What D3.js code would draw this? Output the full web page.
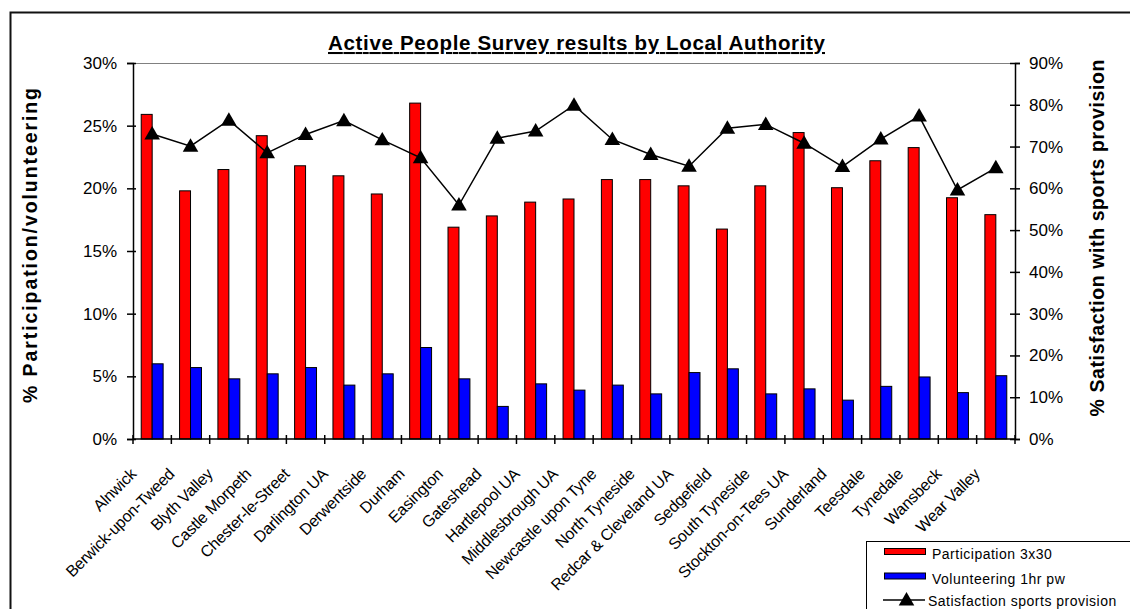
<!DOCTYPE html>
<html>
<head>
<meta charset="utf-8">
<script src="https://cdn.jsdelivr.net/npm/d3@7"></script>
<style>
  html, body { margin: 0; padding: 0; background: #fff; }
  svg { display: block; font-family: "Liberation Sans", Arial, sans-serif; }
</style>
</head>
<body>
<svg id="chart" width="1130" height="609"></svg>
<script>
// Local authorities in the North East
const categories = [
  "Alnwick", "Berwick-upon-Tweed", "Blyth Valley", "Castle Morpeth", "Chester-le-Street",
  "Darlington UA", "Derwentside", "Durham", "Easington", "Gateshead", "Hartlepool UA",
  "Middlesbrough UA", "Newcastle upon Tyne", "North Tyneside", "Redcar & Cleveland UA",
  "Sedgefield", "South Tyneside", "Stockton-on-Tees UA", "Sunderland", "Teesdale",
  "Tynedale", "Wansbeck", "Wear Valley"
];

// Participation 3x30 (share of adults)
const participation = [
  0.259, 0.198, 0.215, 0.242, 0.218, 0.210, 0.1955, 0.268, 0.169, 0.178, 0.189,
  0.1915, 0.207, 0.207, 0.202, 0.1675, 0.202, 0.2445, 0.2005, 0.222, 0.2325, 0.1925, 0.179
];

// Volunteering at least 1hr per week
const volunteering = [
  0.060, 0.057, 0.048, 0.052, 0.057, 0.043, 0.052, 0.073, 0.048, 0.026, 0.044,
  0.039, 0.043, 0.036, 0.053, 0.056, 0.036, 0.040, 0.031, 0.042, 0.0495, 0.037, 0.0505
];

// Satisfaction with sports provision
const satisfaction = [
  0.730, 0.701, 0.763, 0.685, 0.729, 0.762, 0.716, 0.673, 0.560, 0.720, 0.737,
  0.799, 0.717, 0.681, 0.653, 0.744, 0.753, 0.708, 0.652, 0.718, 0.773, 0.596, 0.649
];

const leftTicks = [0, 0.05, 0.10, 0.15, 0.20, 0.25, 0.30];
const rightTicks = [0, 0.1, 0.2, 0.3, 0.4, 0.5, 0.6, 0.7, 0.8, 0.9];

const barSeries = [
  { name: "Participation 3x30", values: participation, color: "#ff0000" },
  { name: "Volunteering 1hr pw", values: volunteering, color: "#0000ff" }
];
const lineName = "Satisfaction sports provision";

const svg = d3.select("#chart");
const font = '"Liberation Sans", Arial, sans-serif';

// plot area
const plot = { left: 133, right: 1015, top: 63, bottom: 439 };

// outer chart border
svg.append("rect")
  .attr("x", 10.5).attr("y", 12.5)
  .attr("width", 1140).attr("height", 640)
  .attr("fill", "#fff").attr("stroke", "#111").attr("stroke-width", 2);

// scales
const pad = 1.5 / 3.5;
const x0 = d3.scaleBand().domain(categories)
  .range([plot.left, plot.right]).paddingInner(pad).paddingOuter(pad / 2);
const x1 = d3.scaleBand().domain(barSeries.map(s => s.name)).range([0, x0.bandwidth()]);
const step = x0.step();
const yL = d3.scaleLinear().domain([0, 0.30]).range([plot.bottom, plot.top]);
const yR = d3.scaleLinear().domain([0, 0.90]).range([plot.bottom, plot.top]);

// plot area top edge
svg.append("line")
  .attr("x1", plot.left).attr("x2", plot.right)
  .attr("y1", plot.top + 0.5).attr("y2", plot.top + 0.5)
  .attr("stroke", "#808080").attr("stroke-width", 1);

// bars
barSeries.forEach(s => {
  svg.append("g").selectAll("rect")
    .data(categories)
    .join("rect")
    .attr("x", (c) => x0(c) + x1(s.name))
    .attr("width", x1.bandwidth())
    .attr("y", (c, i) => yL(s.values[i]))
    .attr("height", (c, i) => plot.bottom - yL(s.values[i]))
    .attr("fill", s.color)
    .attr("stroke", "#000").attr("stroke-width", 1);
});

// left axis
const axL = svg.append("g")
  .attr("transform", `translate(${plot.left},0)`)
  .call(d3.axisLeft(yL).tickValues(leftTicks).tickFormat(d3.format(".0%")).tickSize(6).tickPadding(10));
axL.select(".domain").attr("stroke", "#000").attr("stroke-width", 1.5);
axL.selectAll(".tick line").attr("x1", 3).attr("x2", -6).attr("stroke-width", 1.5);
axL.selectAll(".tick text").attr("font-family", font).attr("font-size", 17).attr("fill", "#000");

// right axis
const axR = svg.append("g")
  .attr("transform", `translate(${plot.right},0)`)
  .call(d3.axisRight(yR).tickValues(rightTicks).tickFormat(d3.format(".0%")).tickSize(5).tickPadding(9));
axR.select(".domain").attr("stroke", "#000").attr("stroke-width", 1.5);
axR.selectAll(".tick line").attr("x1", -5).attr("x2", 5).attr("stroke-width", 1.5);
axR.selectAll(".tick text").attr("font-family", font).attr("font-size", 17).attr("fill", "#000");

// category axis with ticks between groups
const boundaries = categories.map(c => x0(c) - step * pad / 2).concat([plot.right]);
const axX = svg.append("g");
axX.append("line")
  .attr("x1", plot.left).attr("x2", plot.right)
  .attr("y1", plot.bottom).attr("y2", plot.bottom)
  .attr("stroke", "#000").attr("stroke-width", 1.5);
axX.selectAll("line.tk").data(boundaries).join("line")
  .attr("class", "tk")
  .attr("x1", d => d).attr("x2", d => d)
  .attr("y1", plot.bottom - 4).attr("y2", plot.bottom + 5)
  .attr("stroke", "#000").attr("stroke-width", 1.5);

axX.selectAll("text").data(categories).join("text")
  .attr("transform", c => `translate(${x0(c) + x0.bandwidth() / 2 - 15},475) rotate(-45)`)
  .attr("text-anchor", "end")
  .attr("font-family", font).attr("font-size", 16)
  .attr("letter-spacing", -0.2)
  .attr("fill", "#000")
  .text(c => c);

// satisfaction line
const linePts = categories.map((c, i) => [x0(c) + x0.bandwidth() / 2, yR(satisfaction[i])]);
svg.append("path")
  .attr("d", d3.line()(linePts))
  .attr("fill", "none").attr("stroke", "#000").attr("stroke-width", 1.5);

const tri = d3.symbol().type(d3.symbolTriangle).size(105);
svg.append("g").selectAll("path")
  .data(linePts).join("path")
  .attr("transform", d => `translate(${d[0]},${d[1] + 1})`)
  .attr("d", tri)
  .attr("fill", "#000");

// title
svg.append("text")
  .attr("x", 328).attr("y", 50)
  .attr("font-family", font).attr("font-size", 20.5).attr("font-weight", "bold")
  .attr("text-decoration", "underline")
  .attr("textLength", 497).attr("lengthAdjust", "spacing")
  .text("Active People Survey results by Local Authority");

// axis titles
svg.append("text")
  .attr("transform", "translate(37,245.5) rotate(-90)")
  .attr("text-anchor", "middle")
  .attr("font-family", font).attr("font-size", 19.5).attr("font-weight", "bold")
  .attr("textLength", 315).attr("lengthAdjust", "spacing")
  .text("% Participation/volunteering");

svg.append("text")
  .attr("transform", "translate(1104,238) rotate(-90)")
  .attr("text-anchor", "middle")
  .attr("font-family", font).attr("font-size", 19.5).attr("font-weight", "bold")
  .attr("textLength", 357).attr("lengthAdjust", "spacing")
  .text("% Satisfaction with sports provision");

// legend
const lg = svg.append("g");
lg.append("rect")
  .attr("x", 866.5).attr("y", 541.5).attr("width", 300).attr("height", 100)
  .attr("fill", "#fff").attr("stroke", "#000").attr("stroke-width", 1);

barSeries.forEach((s, i) => {
  const yy = 548 + i * 24.5;
  lg.append("rect")
    .attr("x", 884.5).attr("y", yy + 0.5).attr("width", 41).attr("height", 6)
    .attr("fill", s.color).attr("stroke", "#000").attr("stroke-width", 1);
  lg.append("text")
    .attr("x", 932).attr("y", yy + 11)
    .attr("font-family", font).attr("font-size", 14).attr("letter-spacing", 0.5)
    .text(s.name);
});
lg.append("line")
  .attr("x1", 883).attr("x2", 925).attr("y1", 600).attr("y2", 600)
  .attr("stroke", "#000").attr("stroke-width", 1.5);
lg.append("path")
  .attr("transform", "translate(906.5,601)")
  .attr("d", tri).attr("fill", "#000");
lg.append("text")
  .attr("x", 928).attr("y", 606)
  .attr("font-family", font).attr("font-size", 14).attr("letter-spacing", 0.5)
  .text(lineName);
</script>
</body>
</html>
